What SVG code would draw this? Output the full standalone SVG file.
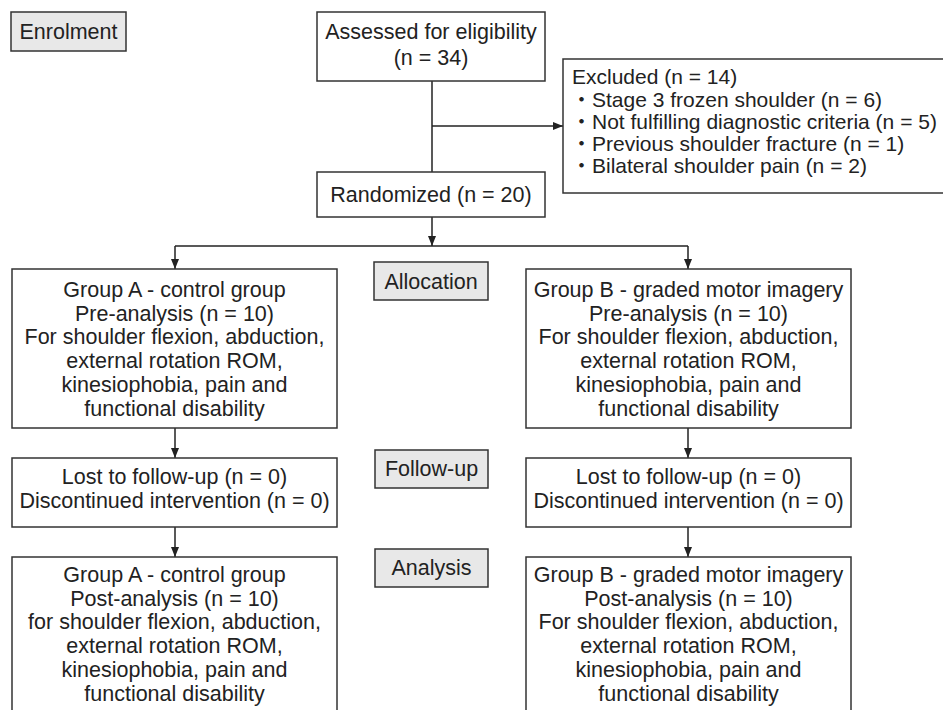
<svg xmlns="http://www.w3.org/2000/svg" width="943" height="710" viewBox="0 0 943 710">
<style>
text{font-family:"Liberation Sans","Noto Sans CJK JP",Arial,sans-serif;font-size:21.5px;fill:#222}
.c{text-anchor:middle}
.ex{font-size:21px}
.box{fill:#fff;stroke:#333;stroke-width:1.5}
.lab{fill:#e8e8e8;stroke:#333;stroke-width:1.5}
.ln{fill:none;stroke:#222;stroke-width:1.5}
</style>
<defs>
<marker id="ah" viewBox="0 0 10 10" refX="10" refY="5" markerWidth="10" markerHeight="10" markerUnits="userSpaceOnUse" orient="auto">
<path d="M0,1 L10,5 L0,9 Z" fill="#222"/>
</marker>
</defs>
<g id="connectors">
<line class="ln" x1="432" y1="81" x2="432" y2="172"/>
<line class="ln" x1="432" y1="126" x2="563" y2="126" marker-end="url(#ah)"/>
<line class="ln" x1="432" y1="217" x2="432" y2="246" marker-end="url(#ah)"/>
<line class="ln" x1="175" y1="246" x2="688" y2="246"/>
<line class="ln" x1="175" y1="246" x2="175" y2="269" marker-end="url(#ah)"/>
<line class="ln" x1="688" y1="246" x2="688" y2="269" marker-end="url(#ah)"/>
<line class="ln" x1="175" y1="428" x2="175" y2="458" marker-end="url(#ah)"/>
<line class="ln" x1="688" y1="428" x2="688" y2="458" marker-end="url(#ah)"/>
<line class="ln" x1="175" y1="527" x2="175" y2="557" marker-end="url(#ah)"/>
<line class="ln" x1="688" y1="527" x2="688" y2="557" marker-end="url(#ah)"/>
</g>
<g id="enrolment">
<rect class="lab" x="11" y="12" width="115" height="39"/>
<text class="c" x="68.5" y="39">Enrolment</text>
</g>
<g id="assessed">
<rect class="box" x="317" y="12" width="228" height="69"/>
<text class="c" x="431" y="39">Assessed for eligibility</text>
<text class="c" x="431" y="65">(n = 34)</text>
</g>
<g id="excluded">
<rect class="box" x="563" y="59" width="400" height="134"/>
<text class="ex" x="572" y="84">Excluded (n = 14)</text>
<text class="ex" x="571" y="107">・Stage 3 frozen shoulder (n = 6)</text>
<text class="ex" x="571" y="129">・Not fulfilling diagnostic criteria (n = 5)</text>
<text class="ex" x="571" y="151">・Previous shoulder fracture (n = 1)</text>
<text class="ex" x="571" y="173">・Bilateral shoulder pain (n = 2)</text>
</g>
<g id="randomized">
<rect class="box" x="317" y="172" width="228" height="45"/>
<text class="c" x="431" y="202">Randomized (n = 20)</text>
</g>
<g id="allocation">
<rect class="lab" x="374" y="262" width="114" height="38"/>
<text class="c" x="431" y="289">Allocation</text>
</g>
<g id="followup">
<rect class="lab" x="375" y="450" width="113" height="38"/>
<text class="c" x="431.5" y="476">Follow-up</text>
</g>
<g id="analysis">
<rect class="lab" x="375" y="549" width="113" height="38"/>
<text class="c" x="431.5" y="575">Analysis</text>
</g>
<g id="groupA-pre">
<rect class="box" x="12" y="269" width="325" height="159"/>
<text class="c" x="174.5" y="297">Group A - control group</text>
<text class="c" x="174.5" y="320.7">Pre-analysis (n = 10)</text>
<text class="c" x="174.5" y="344.4">For shoulder flexion, abduction,</text>
<text class="c" x="174.5" y="368.1">external rotation ROM,</text>
<text class="c" x="174.5" y="391.8">kinesiophobia, pain and</text>
<text class="c" x="174.5" y="415.5">functional disability</text>
</g>
<g id="groupB-pre">
<rect class="box" x="526" y="269" width="325" height="159"/>
<text class="c" x="688.5" y="297">Group B - graded motor imagery</text>
<text class="c" x="688.5" y="320.7">Pre-analysis (n = 10)</text>
<text class="c" x="688.5" y="344.4">For shoulder flexion, abduction,</text>
<text class="c" x="688.5" y="368.1">external rotation ROM,</text>
<text class="c" x="688.5" y="391.8">kinesiophobia, pain and</text>
<text class="c" x="688.5" y="415.5">functional disability</text>
</g>
<g id="groupA-lost">
<rect class="box" x="12" y="458" width="325" height="69"/>
<text class="c" x="174.5" y="484">Lost to follow-up (n = 0)</text>
<text class="c" x="174.5" y="508">Discontinued intervention (n = 0)</text>
</g>
<g id="groupB-lost">
<rect class="box" x="526" y="458" width="325" height="69"/>
<text class="c" x="688.5" y="484">Lost to follow-up (n = 0)</text>
<text class="c" x="688.5" y="508">Discontinued intervention (n = 0)</text>
</g>
<g id="groupA-post">
<rect class="box" x="12" y="557" width="325" height="170"/>
<text class="c" x="174.5" y="582">Group A - control group</text>
<text class="c" x="174.5" y="605.7">Post-analysis (n = 10)</text>
<text class="c" x="174.5" y="629.4">for shoulder flexion, abduction,</text>
<text class="c" x="174.5" y="653.1">external rotation ROM,</text>
<text class="c" x="174.5" y="676.8">kinesiophobia, pain and</text>
<text class="c" x="174.5" y="700.5">functional disability</text>
</g>
<g id="groupB-post">
<rect class="box" x="526" y="557" width="325" height="170"/>
<text class="c" x="688.5" y="582">Group B - graded motor imagery</text>
<text class="c" x="688.5" y="605.7">Post-analysis (n = 10)</text>
<text class="c" x="688.5" y="629.4">For shoulder flexion, abduction,</text>
<text class="c" x="688.5" y="653.1">external rotation ROM,</text>
<text class="c" x="688.5" y="676.8">kinesiophobia, pain and</text>
<text class="c" x="688.5" y="700.5">functional disability</text>
</g>
</svg>
